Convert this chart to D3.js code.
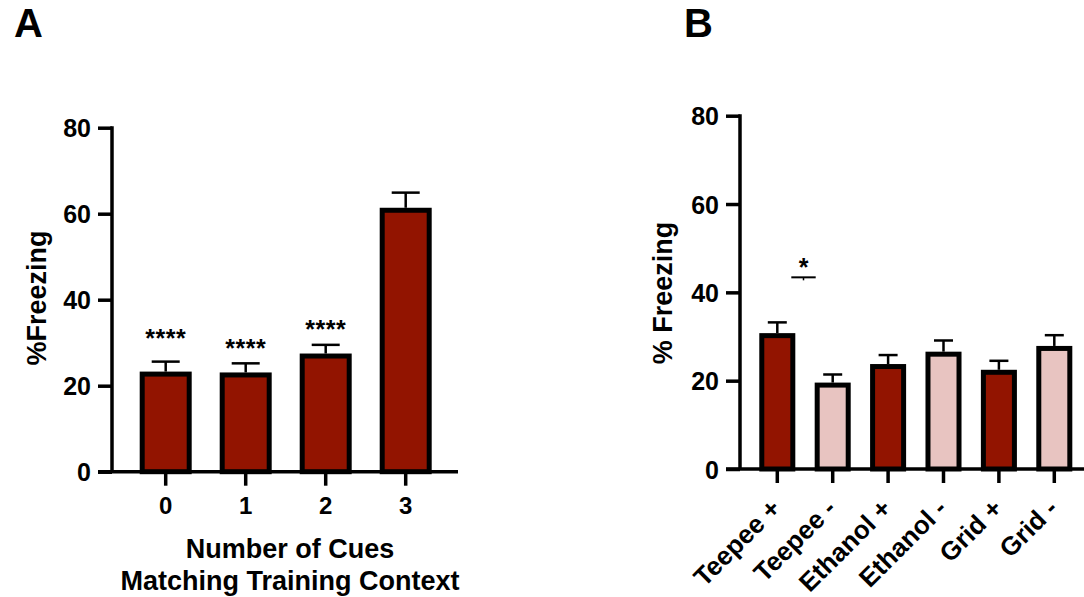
<!DOCTYPE html>
<html>
<head>
<meta charset="utf-8">
<script src="https://cdn.jsdelivr.net/npm/d3@7"></script>
<style>
  html, body { margin: 0; padding: 0; background: #ffffff; }
  svg { display: block; font-family: "Liberation Sans", Arial, Helvetica, sans-serif; font-weight: bold; }
</style>
</head>
<body>
<svg id="chart" width="1084" height="597"></svg>
<script>
// ---------- Panel A data ----------
const catsA = ["0", "1", "2", "3"];
const valuesA = [22.7, 22.5, 26.9, 60.8];
const semA = [2.9, 2.7, 2.6, 4.1];
const sigA = ["****", "****", "****", ""];
const sigYA = [32.2, 29.9, 34.3, null];
const yTicksA = [0, 20, 40, 60, 80];

// ---------- Panel B data ----------
const catsB = ["Teepee +", "Teepee -", "Ethanol +", "Ethanol -", "Grid +", "Grid -"];
const valuesB = [30.2, 19.0, 23.2, 26.0, 21.9, 27.3];
const semB = [3.0, 2.4, 2.6, 3.1, 2.6, 3.0];
const cueB = ["+", "-", "+", "-", "+", "-"];
const yTicksB = [0, 20, 40, 60, 80];
const sigBracketB = { from: 0, to: 1, y: 43.4, label: "*" };

const DARK = "#921400";
const LIGHT = "#e8c4c1";

const svg = d3.select("#chart");

function drawPanel(opts) {
  const g = svg.append("g");
  const y = d3.scaleLinear().domain([0, 80]).range([opts.y0, opts.y1]);
  const x = d3.scaleBand().domain(opts.cats).range(opts.xRange)
    .paddingInner(opts.padIn).paddingOuter(opts.padIn / 2);
  const bw = x.bandwidth();

  // bars
  g.selectAll("rect.bar").data(opts.values).enter().append("rect")
    .attr("x", (d, i) => x(opts.cats[i]))
    .attr("y", d => y(d))
    .attr("width", bw)
    .attr("height", d => y(0) - y(d))
    .attr("fill", (d, i) => opts.colors[i])
    .attr("stroke", "#000")
    .attr("stroke-width", opts.barStroke);

  // error bars (upper only)
  opts.values.forEach((v, i) => {
    const cx = x(opts.cats[i]) + bw / 2;
    g.append("line").attr("x1", cx).attr("x2", cx)
      .attr("y1", y(v) - opts.barStroke / 2).attr("y2", y(v + opts.sem[i]))
      .attr("stroke", "#000").attr("stroke-width", 2.5);
    g.append("line").attr("x1", cx - opts.capW / 2).attr("x2", cx + opts.capW / 2)
      .attr("y1", y(v + opts.sem[i])).attr("y2", y(v + opts.sem[i]))
      .attr("stroke", "#000").attr("stroke-width", 2.5);
  });

  // y axis
  const yAxis = d3.axisLeft(y).tickValues(opts.yTicks).tickSize(14).tickPadding(7).tickFormat(d3.format("d"));
  const ya = g.append("g").attr("transform", `translate(${opts.axisX},0)`).call(yAxis);
  ya.select(".domain").attr("d", `M0,${opts.y1 - 1.5}V${opts.y0}`).attr("stroke-width", 3.5);
  ya.selectAll(".tick line").attr("stroke-width", 3.5);
  ya.selectAll(".tick text").attr("font-size", 25).attr("font-family", "Liberation Sans, Arial, sans-serif")
    .attr("font-weight", "bold").attr("fill", "#000").attr("dy", "0.36em");

  // x axis
  const xAxis = d3.axisBottom(x).tickSize(14).tickPadding(8);
  const xa = g.append("g").attr("transform", `translate(0,${opts.y0})`).call(xAxis);
  xa.select(".domain").attr("d", `M${opts.axisX - 14},0H${opts.xAxisEnd}`).attr("stroke-width", 3.5);
  xa.selectAll(".tick line").attr("stroke-width", 3.5);
  xa.selectAll(".tick text").attr("font-size", opts.xFont).attr("font-family", "Liberation Sans, Arial, sans-serif")
    .attr("font-weight", "bold").attr("fill", "#000");
  return { g, x, y, xa, bw };
}

// ---------- Panel A ----------
const A = drawPanel({
  cats: catsA, values: valuesA, sem: semA,
  colors: catsA.map(() => DARK),
  y0: 471.7, y1: 127.7, xRange: [125.7, 445.7], padIn: 0.4125,
  axisX: 112, xAxisEnd: 458, barStroke: 5, capW: 28, yTicks: yTicksA, xFont: 24
});
A.xa.selectAll(".tick text").attr("dy", "0.71em").attr("y", 25);

sigA.forEach((s, i) => {
  if (!s) return;
  A.g.append("text")
    .attr("x", A.x(catsA[i]) + A.bw / 2)
    .attr("y", A.y(sigYA[i]) + 13.5)
    .attr("text-anchor", "middle").attr("font-size", 25).attr("letter-spacing", "0.5px")
    .text(s);
});

svg.append("text").attr("transform", "translate(46,298) rotate(-90)")
  .attr("text-anchor", "middle").attr("font-size", 27).text("%Freezing");
svg.append("text").attr("x", 290).attr("y", 558)
  .attr("text-anchor", "middle").attr("font-size", 27).text("Number of Cues");
svg.append("text").attr("x", 290).attr("y", 590)
  .attr("text-anchor", "middle").attr("font-size", 27).text("Matching Training Context");

svg.append("text").attr("x", 14).attr("y", 37).attr("font-size", 40).text("A");

// ---------- Panel B ----------
const B = drawPanel({
  cats: catsB, values: valuesB, sem: semB,
  colors: cueB.map(c => c === "+" ? DARK : LIGHT),
  y0: 469, y1: 115.7, xRange: [749.6, 1082], padIn: 0.44,
  axisX: 740, xAxisEnd: 1084, barStroke: 5, capW: 19, yTicks: yTicksB, xFont: 26
});
B.xa.selectAll(".tick text")
  .attr("text-anchor", "end").attr("dy", null).attr("y", null)
  .attr("transform", "translate(5,41) rotate(-45)");

// significance bracket
{
  const x1 = B.x(catsB[sigBracketB.from]) + B.bw / 2 + 14;
  const x2 = B.x(catsB[sigBracketB.to]) + B.bw / 2 - 17;
  const yy = B.y(sigBracketB.y);
  B.g.append("line").attr("x1", x1).attr("x2", x2).attr("y1", yy).attr("y2", yy)
    .attr("stroke", "#000").attr("stroke-width", 2);
  B.g.append("line").attr("x1", (x1 + x2) / 2).attr("x2", (x1 + x2) / 2).attr("y1", yy).attr("y2", yy + 3)
    .attr("stroke", "#000").attr("stroke-width", 1.5);
  B.g.append("text").attr("x", (x1 + x2) / 2).attr("y", yy - 15 + 13.5)
    .attr("text-anchor", "middle").attr("font-size", 25).text(sigBracketB.label);
}

svg.append("text").attr("transform", "translate(672,293) rotate(-90)")
  .attr("text-anchor", "middle").attr("font-size", 27).text("% Freezing");

svg.append("text").attr("x", 684).attr("y", 37).attr("font-size", 40).text("B");
</script>
</body>
</html>
